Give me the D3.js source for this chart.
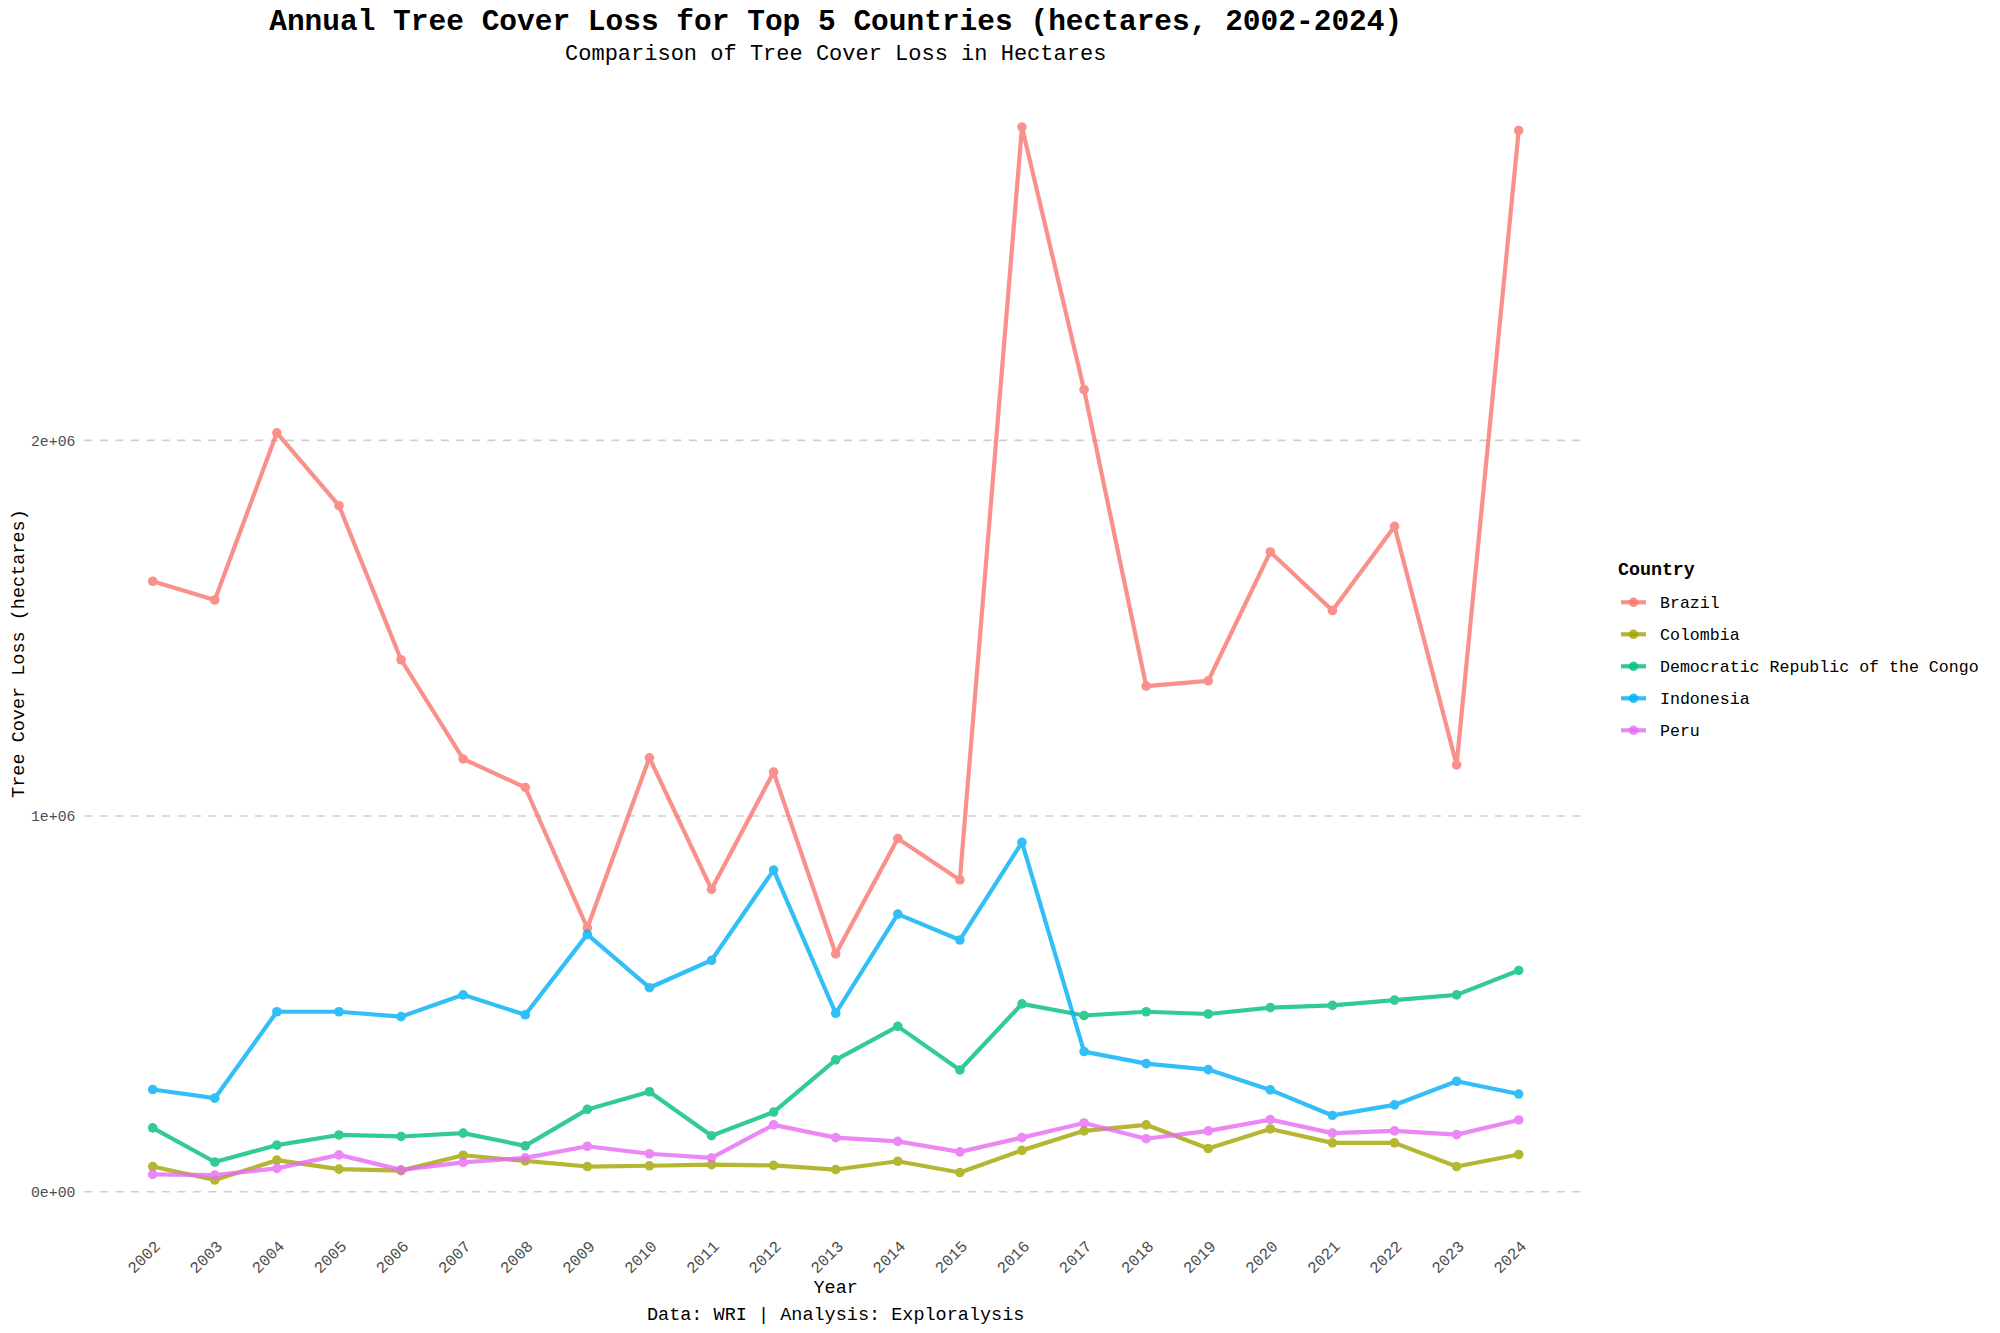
<!DOCTYPE html>
<html>
<head>
<meta charset="utf-8">
<script src="https://cdn.jsdelivr.net/npm/d3@7"></script>
<style>
  body { margin: 0; background: #fff; }
  svg text { font-family: "Liberation Mono", "DejaVu Sans Mono", monospace; }
</style>
</head>
<body>
<div class="chart"></div>
<script>
// years on the x axis
const years = d3.range(2002, 2025);

const countries = ['Brazil', 'Colombia', 'Democratic Republic of the Congo', 'Indonesia', 'Peru'];
const colors = ['#F8766D', '#A3A500', '#00BF7D', '#00B0F6', '#E76BF3'];

// annual loss in hectares
const brazil = [1625000, 1575000, 2020000, 1826000, 1416000, 1152000, 1076000, 702000, 1155000, 805000,
  1117000, 633000, 940000, 830000, 2834000, 2135000, 1346000, 1360000, 1703000, 1547000, 1771000, 1136000, 2825000];
const colombia = [67000, 31000, 84000, 60000, 56000, 97000, 82000, 67000, 69000, 72000,
  70000, 59000, 81000, 51000, 110000, 162000, 178000, 115000, 167000, 130000, 130000, 67000, 99000];
const drc = [170000, 79000, 124000, 151000, 147000, 156000, 122000, 219000, 266000, 149000,
  212000, 351000, 440000, 324000, 500000, 469000, 479000, 473000, 490000, 496000, 510000, 524000, 589000];
const indonesia = [272000, 249000, 479000, 479000, 466000, 524000, 471000, 685000, 543000, 616000,
  856000, 475000, 739000, 670000, 930000, 373000, 341000, 325000, 271000, 203000, 231000, 294000, 260000];
const peru = [46000, 44000, 62000, 98000, 58000, 78000, 90000, 121000, 101000, 90000,
  178000, 144000, 134000, 106000, 144000, 183000, 141000, 162000, 192000, 156000, 162000, 152000, 191000];

const yTicks = [0, 1000000, 2000000];
const yTickLabels = ['0e+00', '1e+06', '2e+06'];

const seriesValues = [brazil, colombia, drc, indonesia, peru];
const series = countries.map((name, i) => ({
    name,
    color: colors[i],
    points: years.map((yr, j) => ({ year: yr, value: seriesValues[i][j] }))
}));

const width = 2000, height = 1333;
const panel = { left: 84.4, right: 1587, top: 74.4, bottom: 1232.7 };

const svg = d3.select('.chart').append('svg')
    .attr('width', width)
    .attr('height', height);

// ggplot style 5% expansion on both axes
function expand(ext) {
    const pad = (ext[1] - ext[0]) * 0.05;
    return [ext[0] - pad, ext[1] + pad];
}

const x = d3.scaleLinear()
    .domain(expand(d3.extent(years)))
    .range([panel.left, panel.right]);

const allValues = seriesValues.flat();
const y = d3.scaleLinear()
    .domain(expand(d3.extent(allValues)))
    .range([panel.bottom, panel.top]);

// gridlines
svg.append('g')
    .selectAll('line')
    .data(yTicks)
    .join('line')
    .attr('x1', panel.left)
    .attr('x2', panel.right)
    .attr('y1', d => y(d))
    .attr('y2', d => y(d))
    .attr('stroke', '#cfcfcf')
    .attr('stroke-width', 1.6)
    .attr('stroke-dasharray', '8,7.5');

// y axis labels
const yAxis = svg.append('g')
    .attr('transform', `translate(${panel.left - 5},0)`)
    .call(d3.axisLeft(y).tickValues(yTicks).tickFormat((d, i) => yTickLabels[i]).tickSize(0).tickPadding(4));
yAxis.select('.domain').remove();
yAxis.selectAll('text')
    .attr('fill', '#4d4d4d')
    .style('font-size', '14.8px')
    .style('font-family', '"Liberation Mono", monospace');

// x axis labels, rotated
const xAxis = svg.append('g')
    .attr('transform', `translate(0,${panel.bottom})`)
    .call(d3.axisBottom(x).tickValues(years).tickFormat(d3.format('d')).tickSize(0));
xAxis.select('.domain').remove();
xAxis.selectAll('text')
    .attr('fill', '#4d4d4d')
    .style('font-size', '16px')
    .style('font-family', '"Liberation Mono", monospace')
    .attr('text-anchor', 'end')
    .attr('dy', '0.35em')
    .attr('transform', 'translate(4,10.5) rotate(-45)')
    .attr('y', 0);

// lines
const line = d3.line()
    .x(d => x(d.year))
    .y(d => y(d.value));

const groups = svg.append('g')
    .selectAll('g')
    .data(series)
    .join('g')
    .attr('opacity', 0.8);

groups.append('path')
    .attr('d', d => line(d.points))
    .attr('fill', 'none')
    .attr('stroke', d => d.color)
    .attr('stroke-width', 4.2)
    .attr('stroke-linejoin', 'round');

groups.selectAll('circle')
    .data(d => d.points.map(p => ({ ...p, color: d.color })))
    .join('circle')
    .attr('cx', d => x(d.year))
    .attr('cy', d => y(d.value))
    .attr('r', 4.8)
    .attr('fill', d => d.color);

// titles
const cx = (panel.left + panel.right) / 2;
svg.append('text')
    .attr('x', cx).attr('y', 30)
    .attr('text-anchor', 'middle')
    .style('font-size', '29.5px')
    .style('font-weight', 'bold')
    .text('Annual Tree Cover Loss for Top 5 Countries (hectares, 2002-2024)');

svg.append('text')
    .attr('x', cx).attr('y', 60)
    .attr('text-anchor', 'middle')
    .style('font-size', '22px')
    .text('Comparison of Tree Cover Loss in Hectares');

svg.append('text')
    .attr('x', cx).attr('y', 1293)
    .attr('text-anchor', 'middle')
    .style('font-size', '18.5px')
    .text('Year');

svg.append('text')
    .attr('x', cx).attr('y', 1320)
    .attr('text-anchor', 'middle')
    .style('font-size', '18.5px')
    .text('Data: WRI | Analysis: Exploralysis');

svg.append('text')
    .attr('transform', `translate(24,${(panel.top + panel.bottom) / 2}) rotate(-90)`)
    .attr('text-anchor', 'middle')
    .style('font-size', '18.5px')
    .text('Tree Cover Loss (hectares)');

// legend
const legend = svg.append('g').attr('transform', 'translate(1618,0)');
legend.append('text')
    .attr('x', 0).attr('y', 575)
    .style('font-size', '18.3px')
    .style('font-weight', 'bold')
    .text('Country');

const items = legend.selectAll('g.item')
    .data(series)
    .join('g')
    .attr('class', 'item')
    .attr('transform', (d, i) => `translate(0,${602.3 + i * 32})`);

items.append('line')
    .attr('x1', 3).attr('x2', 28)
    .attr('stroke', d => d.color)
    .attr('stroke-width', 4.2)
    .attr('opacity', 0.8);
items.append('circle')
    .attr('cx', 15.5).attr('cy', 0)
    .attr('r', 4.8)
    .attr('fill', d => d.color)
    .attr('opacity', 0.8);
items.append('text')
    .attr('x', 42)
    .attr('dy', '0.35em')
    .style('font-size', '16.6px')
    .text(d => d.name);
</script>
</body>
</html>
